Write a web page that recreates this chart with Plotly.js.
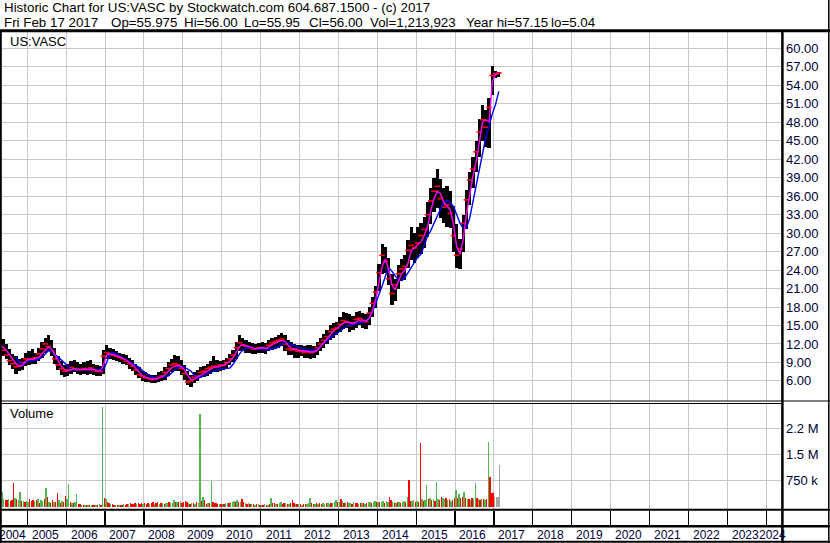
<!DOCTYPE html>
<html>
<head>
<meta charset="utf-8">
<script src="https://cdn.plot.ly/plotly-3.0.1.min.js"></script>
<style>
html,body{margin:0;padding:0;background:#ffffff;}
#chart{width:830px;height:543px;}
</style>
</head>
<body>
<div id="chart"></div>
<script>
// ---------------- DATA ----------------
// Monthly bars, first bar = April 2004, last bar = February 2017
const firstYear = 2004;
const firstMonth = 4;

const priceHigh = [
  13.0, 12.8, 12.0, 11.2, 10.4, 10.0, 9.6, 9.8, 10.6,                       // 2004
  10.8, 11.2, 10.6, 11.4, 12.4, 13.0, 13.4, 12.6, 11.4, 10.0, 9.2, 8.6,     // 2005
  8.8, 9.2, 9.4, 9.0, 8.8, 9.0, 9.2, 9.4, 8.8, 8.6, 8.4, 11.0,              // 2006
  11.9, 11.4, 11.2, 10.8, 10.6, 10.4, 10.2, 9.8, 9.4, 8.8, 8.2, 7.6,        // 2007
  7.4, 7.2, 7.0, 7.0, 7.4, 7.6, 8.2, 9.0, 9.6, 10.2, 10.0, 9.4,             // 2008
  8.6, 7.6, 7.0, 7.4, 7.8, 8.2, 8.4, 8.8, 9.2, 10.0, 9.4, 9.2,              // 2009
  9.4, 9.8, 10.4, 11.0, 12.4, 13.4, 13.0, 12.6, 12.4, 12.2, 12.0, 12.2,     // 2010
  12.4, 12.2, 12.6, 13.0, 13.2, 13.4, 13.8, 13.4, 12.6, 12.4, 12.0, 11.8,   // 2011
  11.8, 11.6, 11.8, 11.8, 11.6, 12.4, 13.0, 13.6, 14.2, 15.0, 15.4, 15.6,   // 2012
  16.4, 17.2, 17.0, 16.8, 16.6, 17.2, 17.4, 17.0, 16.8, 18.0, 19.6, 21.4,   // 2013
  25.0, 28.2, 27.8, 26.0, 23.4, 22.6, 24.8, 25.8, 26.4, 28.8, 31.0, 30.0,   // 2014
  31.0, 31.6, 32.6, 35.0, 37.4, 39.0, 40.4, 38.8, 37.4, 37.6, 36.8, 34.4,   // 2015
  31.4, 29.0, 33.0, 37.0, 40.0, 42.4, 45.0, 48.6, 50.8, 50.0, 52.0, 57.15,  // 2016
  56.4, 56.2                                                                // 2017
];
const priceLow = [
  10.5, 10.0, 9.6, 8.6, 8.0, 7.2, 7.6, 7.8, 8.5,
  8.6, 8.8, 8.8, 9.2, 9.8, 10.6, 10.8, 10.0, 8.8, 7.8, 7.0, 6.6,
  6.8, 7.2, 7.4, 7.2, 7.0, 7.2, 7.0, 7.2, 7.0, 6.8, 6.8, 7.2,
  9.6, 9.6, 9.4, 9.2, 9.0, 8.8, 8.6, 8.0, 7.6, 7.0, 6.4, 6.0,
  5.8, 5.8, 5.6, 5.6, 5.8, 6.0, 6.2, 6.8, 7.4, 7.6, 7.6, 7.0,
  6.2, 5.3, 5.04, 5.6, 6.0, 6.4, 6.6, 6.8, 7.2, 7.4, 7.4, 7.6,
  7.8, 8.0, 8.6, 9.0, 9.6, 10.8, 10.8, 10.6, 10.6, 10.4, 10.4, 10.6,
  10.6, 10.4, 10.8, 11.0, 11.2, 11.4, 11.6, 10.8, 10.2, 10.2, 9.8, 9.8,
  10.0, 9.8, 9.8, 9.6, 9.8, 10.2, 10.8, 11.4, 12.0, 12.6, 13.0, 13.4,
  14.0, 14.4, 14.6, 14.0, 14.2, 14.6, 15.0, 14.6, 14.4, 15.0, 16.4, 17.8,
  20.6, 23.4, 23.6, 21.6, 18.4, 19.0, 21.0, 22.2, 22.4, 24.4, 25.6, 25.2,
  26.0, 26.6, 27.6, 29.4, 31.4, 33.4, 34.0, 32.4, 31.6, 31.0, 30.8, 27.0,
  24.4, 24.2, 27.0, 30.6, 34.6, 37.4, 40.0, 42.4, 45.0, 44.0, 43.8, 52.4,
  55.2, 55.4
];
const priceClose = [
  11.5, 11.0, 10.2, 9.3, 8.8, 8.3, 8.5, 9.0, 9.6,
  9.5, 9.6, 9.8, 10.4, 11.2, 12.0, 11.6, 10.8, 9.6, 8.6, 8.0, 7.6,
  7.8, 8.2, 8.0, 7.8, 7.9, 8.0, 7.8, 8.1, 7.7, 7.6, 7.5, 10.0,
  10.6, 10.4, 10.2, 10.0, 9.8, 9.6, 9.2, 8.8, 8.4, 7.8, 7.0, 6.8,
  6.5, 6.4, 6.2, 6.3, 6.6, 6.8, 7.4, 8.0, 8.6, 8.8, 8.6, 8.0,
  7.2, 5.8, 6.0, 6.6, 6.8, 7.4, 7.6, 8.0, 8.2, 8.4, 8.3, 8.6,
  8.6, 9.0, 9.6, 10.2, 11.4, 12.2, 11.8, 11.6, 11.4, 11.2, 11.2, 11.4,
  11.4, 11.2, 11.8, 12.2, 12.4, 12.6, 12.8, 12.0, 11.2, 11.0, 11.2, 10.8,
  10.8, 10.6, 10.8, 10.6, 10.8, 11.4, 12.0, 12.6, 13.2, 14.0, 14.4, 14.6,
  15.2, 15.8, 15.6, 15.0, 15.4, 16.0, 16.2, 15.6, 15.6, 17.0, 18.6, 20.4,
  23.6, 26.4, 25.4, 22.6, 20.2, 21.6, 23.4, 24.2, 24.6, 27.2, 28.0, 27.6,
  28.4, 29.6, 30.6, 33.0, 35.2, 36.8, 37.6, 35.6, 34.2, 34.6, 33.2, 29.6,
  26.4, 27.4, 31.6, 35.4, 38.6, 40.4, 43.2, 46.4, 48.4, 47.2, 50.4, 55.6,
  55.9, 56.0
];
// short moving average (magenta)
const maShort = [
  11.7, 11.5, 11.0, 10.3, 9.6, 8.8, 8.4, 8.5, 9.2,
  9.5, 9.5, 9.6, 9.8, 10.4, 11.0, 11.5, 11.2, 10.3, 9.2, 8.4, 7.8,
  7.6, 7.8, 8.0, 7.9, 7.8, 7.9, 7.9, 7.9, 7.9, 7.7, 7.6, 8.6,
  10.2, 10.4, 10.3, 10.1, 9.9, 9.7, 9.4, 9.0, 8.6, 8.0, 7.4, 6.9,
  6.6, 6.4, 6.3, 6.3, 6.4, 6.6, 7.0, 7.6, 8.1, 8.4, 8.5, 8.3,
  7.8, 6.9, 6.2, 6.3, 6.6, 7.0, 7.3, 7.6, 7.9, 8.2, 8.3, 8.4,
  8.5, 8.8, 9.2, 9.8, 10.6, 11.6, 11.9, 11.7, 11.5, 11.3, 11.2, 11.3,
  11.4, 11.3, 11.5, 11.9, 12.2, 12.4, 12.6, 12.4, 11.8, 11.3, 11.1, 11.0,
  10.9, 10.8, 10.7, 10.7, 10.7, 11.0, 11.6, 12.2, 12.8, 13.5, 14.1, 14.5,
  14.9, 15.4, 15.6, 15.4, 15.3, 15.6, 15.9, 15.9, 15.7, 16.2, 17.4, 19.2,
  22.0, 24.6, 25.8, 24.2, 21.6, 20.8, 22.2, 23.4, 24.0, 25.2, 27.2, 27.6,
  28.2, 28.6, 29.6, 31.0, 33.6, 35.6, 36.8, 36.4, 35.0, 34.4, 33.8, 31.4,
  27.8, 26.6, 28.9, 33.0, 36.5, 39.2, 41.6, 44.6, 48.0, 48.4, 48.0, 54.6,
  55.8, 55.9
];
// long moving average (blue)
const maLong = [
  null, null, null, null, null, 9.9, 9.0, 8.7, 9.0,
  9.2, 9.3, 9.4, 9.5, 9.8, 10.3, 10.9, 10.9, 10.3, 9.9, 9.4, 8.8,
  8.4, 7.9, 7.8, 7.8, 7.9, 7.9, 7.9, 7.9, 7.8, 7.8, 7.8, 7.8,
  9.0, 10.4, 10.6, 10.3, 10.0, 9.7, 9.5, 9.2, 8.9, 8.6, 8.2, 7.7,
  7.3, 6.9, 6.6, 6.5, 6.5, 6.6, 6.7, 6.8, 7.3, 7.8, 8.2, 8.3,
  8.2, 7.9, 7.6, 6.9, 6.4, 6.6, 6.8, 7.1, 7.4, 7.6, 7.8, 7.9,
  8.0, 8.0, 8.1, 8.7, 9.6, 10.4, 11.0, 11.4, 11.4, 11.3, 11.2, 11.1,
  11.0, 11.0, 11.1, 11.2, 11.3, 11.5, 11.9, 12.1, 12.1, 12.0, 11.8, 11.5,
  11.3, 11.1, 11.0, 11.0, 11.0, 11.1, 11.6, 12.1, 12.6, 13.0, 13.3, 13.7,
  14.0, 14.5, 14.9, 15.0, 15.2, 15.3, 15.4, 15.5, 15.8, 16.3, 17.2, 18.6,
  19.8, 21.4, 23.0, 24.4, 23.8, 23.0, 22.4, 22.3, 22.8, 23.6, 24.4, 25.4,
  26.1, 26.6, 28.1, 29.5, 30.4, 31.6, 32.7, 33.9, 34.9, 35.3, 35.0, 34.3,
  33.0, 31.6, 30.8, 30.8, 32.4, 35.0, 37.5, 40.4, 43.2, 45.6, 47.4, 49.4,
  50.9, 53.0
];

// Volume, half-month periods, first = first half of April 2004 (thousands of shares)
const volFirstHalfMonth = 6; // 0 = first half of January
const volume = [
  540,600,420,240,190,210,230,160,200,690,260,230,200,425,180,160,140,180,                 // 2004
  150,230,180,210,160,190,230,120,190,170,220,550,290,150,110,200,130,140,405,190,120,160,130,310, // 2005
  220,670,150,120,100,140,370,90,70,60,60,50,55,60,50,60,55,50,60,55,70,60,2850,260,       // 2006
  240,150,100,80,70,60,50,60,50,55,60,70,60,90,70,110,80,90,120,80,110,90,100,80,          // 2007
  100,80,120,90,110,130,80,100,140,90,110,100,90,120,100,150,110,120,210,150,140,130,170,100, // 2008
  130,160,140,120,90,110,100,80,130,110,2660,160,280,200,90,120,100,740,150,120,100,90,70,80, // 2009
  80,90,100,120,110,150,130,160,140,200,140,130,225,150,100,80,110,90,80,70,60,70,80,60,  // 2010
  60,50,70,60,50,80,260,120,110,90,80,100,130,90,100,110,90,70,120,200,100,80,70,90,      // 2011
  80,60,70,90,80,100,260,120,90,80,100,90,110,80,100,90,120,100,90,120,110,130,200,140,   // 2012
  150,240,160,120,110,140,100,120,90,130,110,100,90,110,120,100,90,110,130,150,120,140,170,150, // 2013
  150,130,140,160,120,180,150,290,200,130,120,110,150,140,100,130,160,140,290,780,180,160,200,150, // 2014
  180,150,1840,220,180,200,625,230,250,200,230,180,720,240,200,270,250,230,260,200,240,180,210,250, // 2015
  480,260,360,250,270,435,260,240,220,200,260,230,690,250,220,200,240,220,200,240,1870,845,405,400, // 2016
  290,280,270,1200                                                                            // 2017
];
// U = close up, D = close down, N = unchanged
const volumeDirection = (
  "DDUUDDUDDDUDUUDUDU" +
  "UDDDUDUDUUDUDUDDUDDUDUDD" +
  "UUDUDUUDDUDUDUDUDDUDUDUD" +
  "UDDUDDUDUDDUDDUDDDDUDDDU" +
  "DDDUDDUDDUDUDUUDUUUDUDUD" +
  "DDDUDUDUDUUDUDDUDUDDDDUD" +
  "UDUUDUUUDUDUDDUDUDUDUDUD" +
  "UDUDUDUDDUDUUDDUDUDDDUDU" +
  "DUDDUUUDDUDUDDUUDUUDUUUD" +
  "UDUDUDUUDUDDUDUDUDUUDUUD" +
  "UDUUDUUDDUDUDUDUUDUDDUUD" +
  "UDDUDUUDUDUDUUDDUUDUDUDD" +
  "UDUDDUDUDUDUUDUDUDUDUDDD" +
  "NNNN"
).split("");

const priceTickVals = [6, 9, 12, 15, 18, 21, 24, 27, 30, 33, 36, 39, 42, 45, 48, 51, 54, 57, 60];
const volumeTickVals = [750000, 1500000, 2250000];
const volumeTickText = ["750 k", "1.5 M", "2.2 M"];
const yearLabels = [2004, 2005, 2006, 2007, 2008, 2009, 2010, 2011, 2012, 2013, 2014,
                    2015, 2016, 2017, 2018, 2019, 2020, 2021, 2022, 2023, 2024];

const headerLine1 = "Historic Chart for US:VASC by Stockwatch.com 604.687.1500 - (c) 2017";
const headerFields = ["Fri Feb 17 2017", "Op=55.975", "Hi=56.00", "Lo=55.95", "Cl=56.00",
                      "Vol=1,213,923", "Year hi=57.15", "lo=5.04"];
const symbolLabel = "US:VASC";
const volumeLabel = "Volume";

// ---------------- LAYOUT GEOMETRY ----------------
const W = 830, H = 543;
const M = {l: 0, r: 48, t: 32, b: 2};
const plotW = W - M.l - M.r;
const plotH = H - M.t - M.b;
const px = X => (X - M.l) / plotW;
const py = Y => (H - M.b - Y) / plotH;
// left edge (pixels) of each header field on the second line
const headerFieldLeft = [2, 109, 182, 242, 307, 368, 464, 549];

const xRange = [2004.298, 2024.407];
const FONT = "Liberation Sans, Arial, Helvetica, sans-serif";
const LABEL = "#000038";

// time positions
const monthT = priceClose.map((_, i) => firstYear + (firstMonth - 1 + i + 0.5) / 12);
const halfT = volume.map((_, j) => firstYear + (volFirstHalfMonth + j + 0.5) / 24);

const dirColor = {U: "#4fb84f", D: "#ff0000", N: "#a6a6a6"};

const traces = [
  { // price high-low bars
    type: "bar", x: monthT, base: priceLow,
    y: priceHigh.map((h, i) => h - priceLow[i]),
    width: 1 / 12, marker: {color: "#000000", line: {width: 0}},
    xaxis: "x", yaxis: "y", hoverinfo: "skip", showlegend: false
  },
  { // close ticks
    type: "scatter", mode: "markers", x: monthT, y: priceClose,
    marker: {symbol: "line-ew", size: 4, line: {color: "#ff0000", width: 1.6}},
    xaxis: "x", yaxis: "y", hoverinfo: "skip", showlegend: false
  },
  {
    type: "scatter", mode: "lines", x: monthT, y: maLong,
    line: {color: "#0000ff", width: 1.4}, connectgaps: false,
    xaxis: "x", yaxis: "y", hoverinfo: "skip", showlegend: false
  },
  {
    type: "scatter", mode: "lines", x: monthT, y: maShort,
    line: {color: "#ff00ff", width: 1.4},
    xaxis: "x", yaxis: "y", hoverinfo: "skip", showlegend: false
  },
  { // volume
    type: "bar", x: halfT, y: volume.map(v => v * 1000),
    width: 0.85 / 24,
    marker: {color: volumeDirection.map(d => dirColor[d]), line: {width: 0}},
    xaxis: "x", yaxis: "y2", hoverinfo: "skip", showlegend: false
  },
  { // empty trace for the year separator row
    type: "scatter", mode: "markers", x: [xRange[0]], y: [-10],
    xaxis: "x2", yaxis: "y3", hoverinfo: "skip", showlegend: false
  }
];

// year labels: centred on the visible part of each year
const annotations = yearLabels.map(yr => {
  const a = Math.max(yr, xRange[0]), b = Math.min(yr + 1, xRange[1]);
  return {
    xref: "x", yref: "paper", x: (a + b) / 2 - 0.04, y: py(534.5),
    text: String(yr), showarrow: false, xanchor: "center", yanchor: "middle",
    font: {family: FONT, size: 12, color: LABEL}
  };
});
annotations.push(
  {xref: "paper", yref: "paper", x: px(2), y: py(8), text: headerLine1, showarrow: false,
   xanchor: "left", yanchor: "middle", font: {family: FONT, size: 13.35, color: "#000000"}},
  {xref: "paper", yref: "paper", x: px(8), y: py(42), text: symbolLabel, showarrow: false,
   xanchor: "left", yanchor: "middle", font: {family: FONT, size: 13, color: "#000000"}},
  {xref: "paper", yref: "paper", x: px(8), y: py(413), text: volumeLabel, showarrow: false,
   xanchor: "left", yanchor: "middle", font: {family: FONT, size: 13, color: "#000000"}}
);
headerFields.forEach((f, k) => annotations.push({
  xref: "paper", yref: "paper", x: px(headerFieldLeft[k]), y: py(22), text: f, showarrow: false,
  xanchor: "left", yanchor: "middle", font: {family: FONT, size: 13.35, color: "#000000"}
}));

function hline(Y, X0, X1, w) {
  return {type: "line", xref: "paper", yref: "paper", x0: px(X0), x1: px(X1), y0: py(Y), y1: py(Y),
          line: {color: "#000000", width: w}, layer: "above"};
}
function vline(X, Y0, Y1, w) {
  return {type: "line", xref: "paper", yref: "paper", x0: px(X), x1: px(X), y0: py(Y0), y1: py(Y1),
          line: {color: "#000000", width: w}, layer: "above"};
}
const shapes = [
  hline(30.8, 0, 830, 3),
  vline(782.4, 30, 543, 2.5),
  vline(0.8, 30, 543, 2),
  hline(401, 0, 830, 1),
  hline(403.5, 0, 782, 1),
  hline(509.7, 0, 830, 2),
  hline(526.3, 0, 830, 2.5),
  hline(541.8, 0, 830, 2),
  vline(828.8, 0, 543, 1.5)
];

const gridColor = "#c8c8c8";
const layout = {
  width: W, height: H,
  margin: M,
  paper_bgcolor: "#ffffff", plot_bgcolor: "#ffffff",
  showlegend: false, barmode: "overlay", bargap: 0,
  font: {family: FONT, size: 13, color: LABEL},
  xaxis: {
    domain: [0, 1], range: xRange, anchor: "y", showticklabels: false,
    showgrid: true, gridcolor: gridColor, gridwidth: 1, tick0: 2000, dtick: 1,
    zeroline: false, showline: false, ticks: "", fixedrange: true
  },
  xaxis2: {
    domain: [0, 1], range: xRange, anchor: "y3", showticklabels: false,
    showgrid: true, gridcolor: "#000000", gridwidth: 1.2, tick0: 2000, dtick: 1,
    zeroline: false, showline: false, ticks: "", fixedrange: true
  },
  yaxis: {
    domain: [py(401), 1], range: [2.74, 62.65], anchor: "x", side: "right",
    tickmode: "array", tickvals: priceTickVals, tickformat: ".2f",
    showgrid: true, gridcolor: gridColor, gridwidth: 1, zeroline: false, showline: false,
    ticks: "", ticklabelstandoff: 3, tickfont: {family: FONT, size: 13, color: LABEL}, fixedrange: true
  },
  yaxis2: {
    domain: [py(509), py(403.5)], range: [-60000, 2960000], anchor: "x", side: "right",
    tickmode: "array", tickvals: volumeTickVals, ticktext: volumeTickText,
    showgrid: true, gridcolor: gridColor, gridwidth: 1, zeroline: false, showline: false,
    ticks: "", ticklabelstandoff: 3, tickfont: {family: FONT, size: 13, color: LABEL}, fixedrange: true
  },
  yaxis3: {
    domain: [py(526), py(510.5)], range: [0, 1], anchor: "x2",
    showgrid: false, showticklabels: false, zeroline: false, showline: false, ticks: "", fixedrange: true
  },
  annotations: annotations,
  shapes: shapes
};

Plotly.newPlot("chart", traces, layout, {staticPlot: true, displayModeBar: false});
</script>
</body>
</html>
